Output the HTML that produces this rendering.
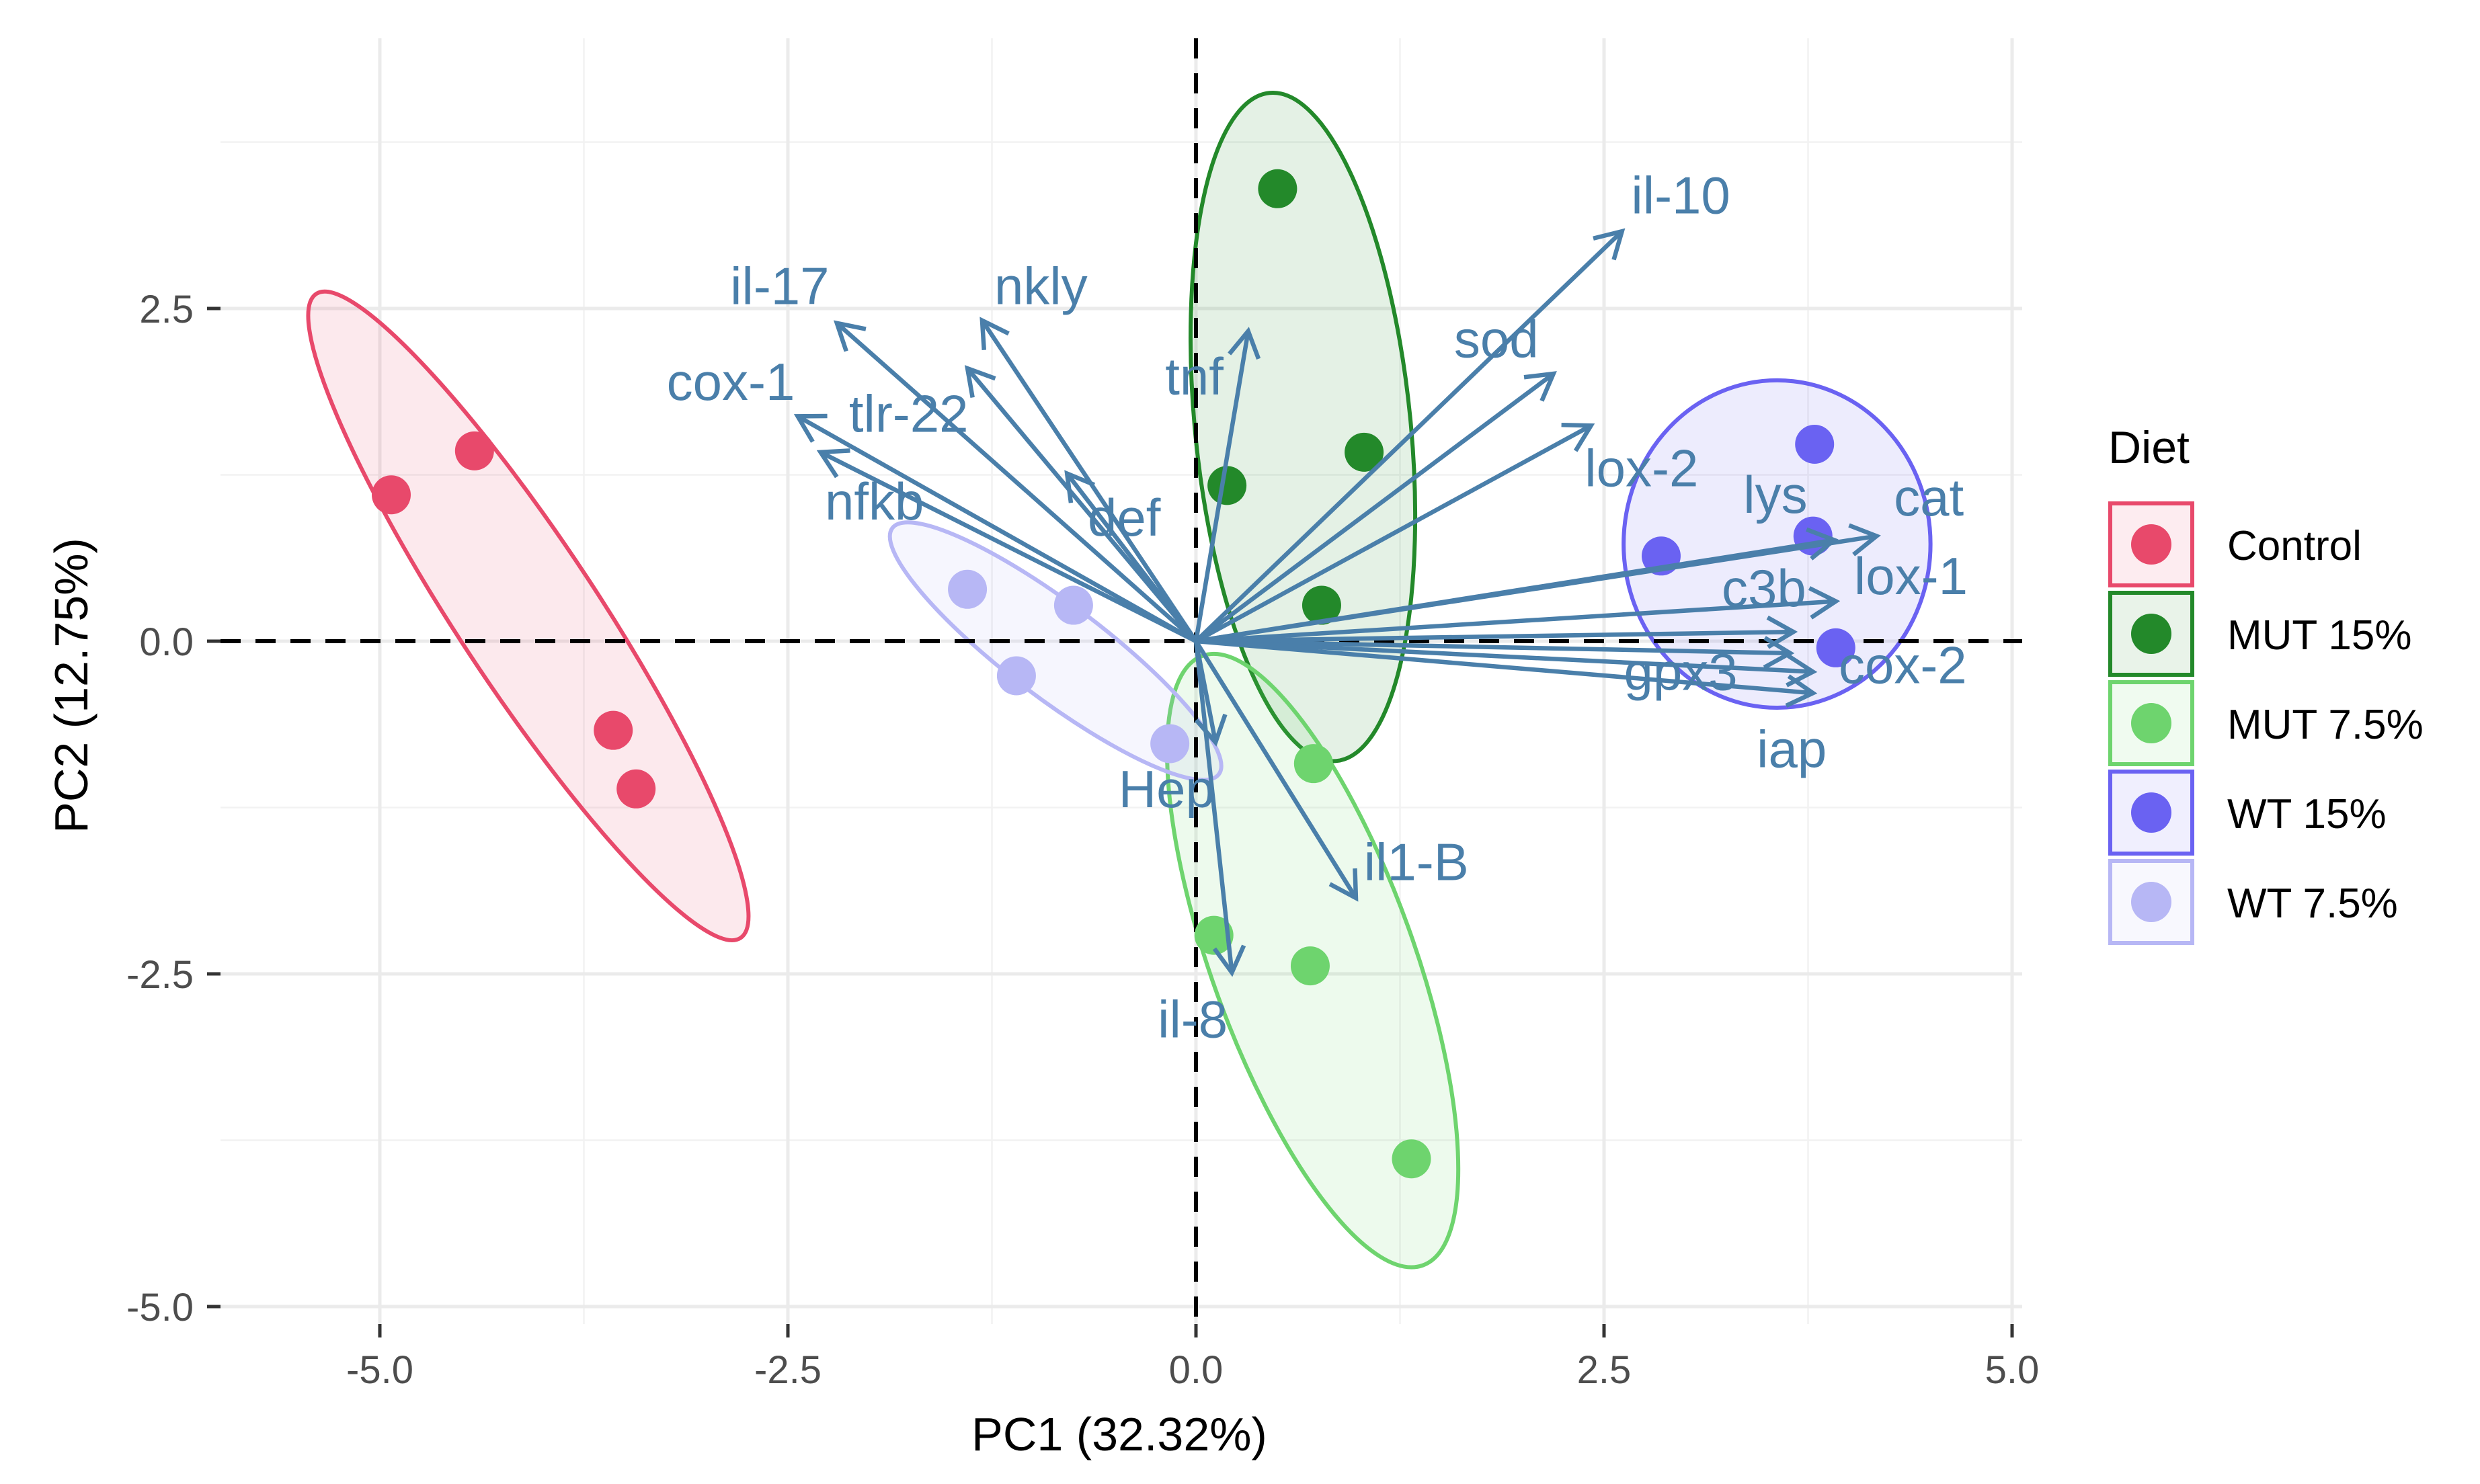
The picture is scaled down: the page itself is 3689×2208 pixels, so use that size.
<!DOCTYPE html>
<html><head><meta charset="utf-8"><style>
html,body{margin:0;padding:0;background:#fff;}
svg{display:block;font-family:"Liberation Sans",Arial,sans-serif;}
</style></head><body>
<svg id="chart" width="3689" height="2208" viewBox="0 0 3689 2208" xmlns="http://www.w3.org/2000/svg">
<rect x="0" y="0" width="3689" height="2208" fill="#fff"/>
<g id="grid"></g>
<g id="ellipses"></g>
<g id="refs"></g>
<g id="points"></g>
<g id="arrows"></g>
<g id="axes"></g>
<text x="1665" y="2158" font-size="70" text-anchor="middle" fill="#000">PC1 (32.32%)</text>
<text transform="translate(130,1020) rotate(-90)" font-size="70" text-anchor="middle" fill="#000">PC2 (12.75%)</text>
<g id="legend"></g>
</svg>
<script>
// ---- data ----
const xTicks = [-5.0, -2.5, 0.0, 2.5, 5.0];
const yTicks = [-5.0, -2.5, 0.0, 2.5];
const xMinor = [-3.75, -1.25, 1.25, 3.75];
const yMinor = [-3.75, -1.25, 1.25, 3.75];
const groups = ["Control", "MUT 15%", "MUT 7.5%", "WT 15%", "WT 7.5%"];
const groupColors = ["#E8496B", "#23892A", "#6ED46E", "#6A62F2", "#B7B7F5"];
const controlX = [-4.93, -4.42, -3.57, -3.43];
const controlY = [1.10, 1.43, -0.67, -1.11];
const mut15X = [0.50, 0.19, 1.03, 0.77];
const mut15Y = [3.40, 1.17, 1.42, 0.27];
const mut75X = [0.72, 0.11, 0.70, 1.32];
const mut75Y = [-0.92, -2.21, -2.44, -3.89];
const wt15X = [3.79, 3.78, 2.85, 3.92];
const wt15Y = [1.48, 0.79, 0.64, -0.05];
const wt75X = [-1.40, -0.75, -1.10, -0.16];
const wt75Y = [0.39, 0.27, -0.26, -0.77];
const ellTip1X = [-5.39, 0.45, 0.04, 3.56, -1.86];
const ellTip1Y = [2.61, 4.12, -0.11, 1.96, 0.85];
const ellTip2X = [-2.79, 0.86, 1.39, 3.56, 0.14];
const ellTip2Y = [-2.23, -0.90, -4.69, -0.50, -1.00];
const ellMinor = [0.43, 0.66, 0.62, 0.94, 0.29];
const varNames = ["il-17","nkly","cox-1","tlr-22","nfkb","def","tnf","il-10","sod","lox-2","lys","cat","lox-1","c3b","gpx3","cox-2","iap","Hep","il1-B","il-8"];
const loadX = [-2.20,-1.31,-2.44,-1.40,-2.30,-0.79,0.32,2.61,2.19,2.42,3.91,4.17,3.92,3.66,3.64,3.78,3.78,0.12,0.98,0.22];
const loadY = [2.39,2.41,1.69,2.05,1.42,1.26,2.33,3.08,2.01,1.62,0.76,0.79,0.30,0.07,-0.09,-0.23,-0.39,-0.76,-1.93,-2.49];
const labelX = [-2.55,-0.95,-2.85,-1.76,-1.97,-0.44,-0.01,2.97,1.84,2.73,3.55,4.49,4.38,3.48,2.97,4.33,3.65,-0.18,1.35,-0.02];
const labelY = [2.67,2.67,1.95,1.71,1.05,0.93,1.99,3.35,2.27,1.30,1.10,1.08,0.49,0.40,-0.23,-0.18,-0.81,-1.11,-1.66,-2.84];

// ---- scales ----
const X0 = 1779, XS = 242.8, Y0 = 954, YS = 198;
const PL = 328, PR = 3008, PT = 57, PB = 1970;
const sx = v => X0 + v * XS;
const sy = v => Y0 - v * YS;
const NS = "http://www.w3.org/2000/svg";
function mk(tag, attrs, parent) {
  const e = document.createElementNS(NS, tag);
  for (const k in attrs) e.setAttribute(k, attrs[k]);
  parent.appendChild(e);
  return e;
}
const grid = document.getElementById('grid');
xMinor.forEach(v => { const l = mk('line', {x1: sx(v), x2: sx(v), y1: PT, y2: PB, stroke: '#F2F2F2', 'stroke-width': 2.5}, grid);
    });
yMinor.forEach(v => { const l = mk('line', {x1: PL, x2: PR, y1: sy(v), y2: sy(v), stroke: '#F2F2F2', 'stroke-width': 2.5}, grid);
    });
xTicks.forEach(v => { const l = mk('line', {x1: sx(v), x2: sx(v), y1: PT, y2: PB, stroke: '#EBEBEB', 'stroke-width': 5}, grid);
    });
yTicks.forEach(v => { const l = mk('line', {x1: PL, x2: PR, y1: sy(v), y2: sy(v), stroke: '#EBEBEB', 'stroke-width': 5}, grid);
    });

const eg = document.getElementById('ellipses');
groups.forEach((g, i) => {
  const x1 = sx(ellTip1X[i]), y1 = sy(ellTip1Y[i]), x2 = sx(ellTip2X[i]), y2 = sy(ellTip2Y[i]);
  const cx = (x1 + x2) / 2, cy = (y1 + y2) / 2;
  const a = Math.hypot(x2 - x1, y2 - y1) / 2;
  const ang = Math.atan2(y2 - y1, x2 - x1) * 180 / Math.PI;
  const e = mk('ellipse', {cx: cx, cy: cy, rx: a, ry: ellMinor[i] * XS, transform: `rotate(${ang} ${cx} ${cy})`,
    fill: groupColors[i], 'fill-opacity': 0.12, stroke: groupColors[i], 'stroke-width': 6}, eg);
  
  
});

const rg = document.getElementById('refs');
const hl = mk('line', {x1: PL, x2: PR, y1: sy(0), y2: sy(0), stroke: '#000', 'stroke-width': 6, 'stroke-dasharray': '30 22'}, rg);
 
const vl = mk('line', {x1: sx(0), x2: sx(0), y1: PT, y2: PB, stroke: '#000', 'stroke-width': 6, 'stroke-dasharray': '30 22'}, rg);
 

const pg = document.getElementById('points');
const allX = [controlX, mut15X, mut75X, wt15X, wt75X];
const allY = [controlY, mut15Y, mut75Y, wt15Y, wt75Y];
groups.forEach((g, i) => {
  allX[i].forEach((v, j) => {
    const c = mk('circle', {cx: sx(v), cy: sy(allY[i][j]), r: 29, fill: groupColors[i]}, pg);
    
    
  });
});

const ag = document.getElementById('arrows');
const AC = '#4A7FAA';
varNames.forEach((n, i) => {
  const tx = sx(loadX[i]), ty = sy(loadY[i]);
  const ox = sx(0), oy = sy(0);
  const ang = Math.atan2(ty - oy, tx - ox);
  const L = 44, w = Math.PI / 6;
  const g = mk('g', {}, ag);
  
  
  mk('line', {x1: ox, y1: oy, x2: tx, y2: ty, stroke: AC, 'stroke-width': 6.5}, g);
  const p = `M${tx - L * Math.cos(ang - w)},${ty - L * Math.sin(ang - w)} L${tx},${ty} L${tx - L * Math.cos(ang + w)},${ty - L * Math.sin(ang + w)}`;
  mk('path', {d: p, fill: 'none', stroke: AC, 'stroke-width': 6.5}, g);
  const t = mk('text', {x: sx(labelX[i]), y: sy(labelY[i]) + 27, 'font-size': 78, 'text-anchor': 'middle', fill: AC}, g);
  t.textContent = n;
});

const ax = document.getElementById('axes');
xTicks.forEach(v => {
  const l = mk('line', {x1: sx(v), x2: sx(v), y1: PB, y2: PB + 20, stroke: '#333', 'stroke-width': 5}, ax);
   
  const t = mk('text', {x: sx(v), y: 2058, 'font-size': 58, 'text-anchor': 'middle', fill: '#4D4D4D'}, ax);
   
  t.textContent = v.toFixed(1);
});
yTicks.forEach(v => {
  const l = mk('line', {x1: PL - 20, x2: PL, y1: sy(v), y2: sy(v), stroke: '#333', 'stroke-width': 5}, ax);
   
  const t = mk('text', {x: 288, y: sy(v) + 21, 'font-size': 58, 'text-anchor': 'end', fill: '#4D4D4D'}, ax);
   
  t.textContent = v.toFixed(1);
});

const lg = document.getElementById('legend');
const lt = mk('text', {x: 3136, y: 689, 'font-size': 68, fill: '#000'}, lg);
 
lt.textContent = 'Diet';
groups.forEach((g, i) => {
  const y = 746 + i * 133;
  const e = mk('g', {}, lg);
  
  
  mk('rect', {x: 3139, y: y + 3, width: 122, height: 122, fill: groupColors[i], 'fill-opacity': 0.1, stroke: groupColors[i], 'stroke-width': 6}, e);
  mk('circle', {cx: 3200, cy: y + 64, r: 30, fill: groupColors[i]}, e);
  const t = mk('text', {x: 3313, y: y + 87, 'font-size': 62, fill: '#000'}, e);
  t.textContent = g;
});
</script>
</body></html>
